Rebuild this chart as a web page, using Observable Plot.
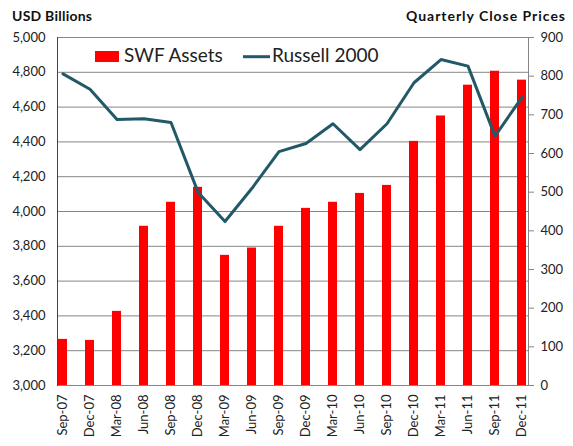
<!DOCTYPE html>
<html><head><meta charset="utf-8">
<script src="https://cdn.jsdelivr.net/npm/d3@7"></script>
<script src="https://cdn.jsdelivr.net/npm/@observablehq/plot@0.6"></script>
<style>body{margin:0;background:#fff}</style>
</head><body><div id="chart"></div>
<script>
const quarters = ["Sep-07","Dec-07","Mar-08","Jun-08","Sep-08","Dec-08","Mar-09","Jun-09","Sep-09","Dec-09","Mar-10","Jun-10","Sep-10","Dec-10","Mar-11","Jun-11","Sep-11","Dec-11"];
const swfAssets = [3265,3259,3426,3915,4053,4139,3748,3790,3915,4018,4053,4104,4150,4403,4549,4726,4806,4755];
const russell2000 = [806,766,688,690,680,500,424,510,605,626,677,610,677,783,843,826,645,745];
const leftTicks = [3000,3200,3400,3600,3800,4000,4200,4400,4600,4800,5000];
const rightTicks = [0,100,200,300,400,500,600,700,800,900];
const leftDomain = [3000,5000];
const rightDomain = [0,900];
const leftTitle = "USD Billions";
const rightTitle = "Quarterly Close Prices";
const seriesNames = ["SWF Assets","Russell 2000"];
const barColor = "#ff0000";
const lineColor = "#215968";

const toLeft = v => leftDomain[0] + (v - rightDomain[0]) / (rightDomain[1] - rightDomain[0]) * (leftDomain[1] - leftDomain[0]);
const fromLeft = v => rightDomain[0] + (v - leftDomain[0]) / (leftDomain[1] - leftDomain[0]) * (rightDomain[1] - rightDomain[0]);
const data = quarters.map((q, i) => ({q, swf: swfAssets[i], r: russell2000[i]}));

const plot = Plot.plot({
  width: 573, height: 446,
  marginTop: 37, marginBottom: 61, marginLeft: 57, marginRight: 45,
  style: {fontFamily: "Lato, sans-serif", fontSize: "13px", color: "#222", background: "#fff"},
  x: {type: "band", domain: quarters, range: [47.4, 536.1], paddingInner: 0.668, paddingOuter: 0.334},
  y: {domain: leftDomain},
  marks: [
    Plot.gridY(leftTicks, {stroke: "#868686", strokeOpacity: 1, strokeWidth: 1}),
    Plot.barY(data, {x: "q", y1: leftDomain[0], y2: "swf", fill: barColor}),
    Plot.line(data, {x: "q", y: d => toLeft(d.r), stroke: lineColor, strokeWidth: 3, strokeLinejoin: "round"}),
    Plot.frame({anchor: "left", stroke: "#2c4d58"}),
    Plot.frame({anchor: "right", stroke: "#868686"}),
    Plot.axisY(leftTicks, {anchor: "left", tickSize: 0, tickPadding: 12, tickFormat: d3.format(","), label: null, fontSize: 13}),
    Plot.axisY(rightTicks.map(toLeft), {anchor: "right", tickSize: 5, tickPadding: 7, stroke: "#868686", tickFormat: d => String(Math.round(fromLeft(d))), label: null, fontSize: 13}),
    Plot.axisX({tickRotate: -90, tickSize: 0, tickPadding: 9, label: null, fontSize: 13})
  ]
});
document.getElementById("chart").appendChild(plot);

const svg = d3.select(plot);
// titles above the axes
const tg = svg.append("g").attr("font-family", "Lato, sans-serif").attr("font-size", 14).attr("font-weight", "bold").attr("fill", "#111");
tg.append("text").attr("x", 12).attr("y", 21).attr("text-anchor", "start")
  .attr("textLength", 80).attr("lengthAdjust", "spacing").text(leftTitle);
tg.append("text").attr("x", 406).attr("y", 21).attr("text-anchor", "start")
  .attr("textLength", 159).attr("lengthAdjust", "spacing").text(rightTitle);
// legend inside the plot area
const lg = svg.append("g").attr("font-family", "Lato, sans-serif").attr("font-size", 19).attr("fill", "#222").attr("text-anchor", "start");
lg.append("rect").attr("x", 95).attr("y", 51).attr("width", 24).attr("height", 11).attr("fill", barColor);
lg.append("text").attr("x", 124).attr("y", 62).text(seriesNames[0]);
lg.append("line").attr("x1", 243).attr("x2", 270).attr("y1", 56.7).attr("y2", 56.7).attr("stroke", lineColor).attr("stroke-width", 3);
lg.append("text").attr("x", 272).attr("y", 62).text(seriesNames[1]);
</script>
</body></html>
